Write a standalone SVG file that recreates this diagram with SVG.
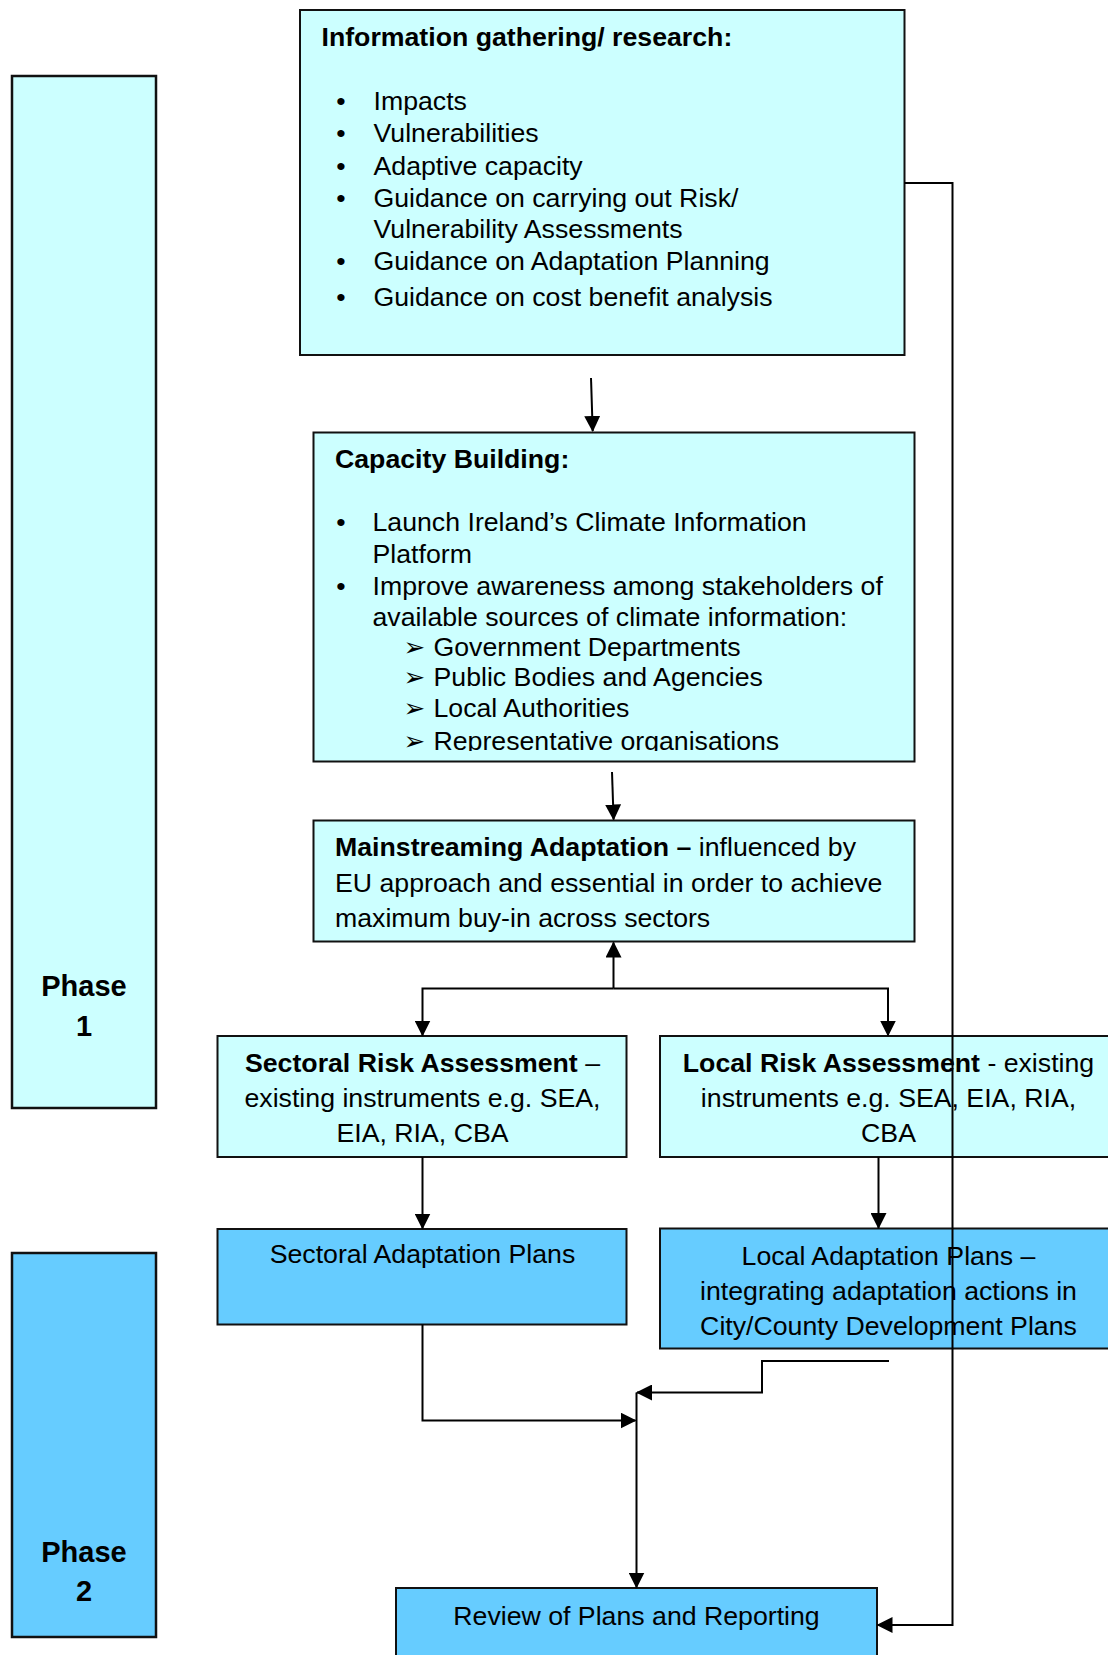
<svg xmlns="http://www.w3.org/2000/svg" width="1108" height="1655" viewBox="0 0 1108 1655">
<defs>
<style>
.t{font-family:'Liberation Sans',Arial,sans-serif;font-size:26.7px;fill:#000}
.b{font-weight:bold}
.n{font-weight:normal}
.c{text-anchor:middle}
.ph{font-family:'Liberation Sans',Arial,sans-serif;font-size:29px;font-weight:bold;text-anchor:middle;fill:#000}
.sym{font-family:'DejaVu Sans',sans-serif;font-size:26px;fill:#000}
.lc{fill:#CCFFFF;stroke:#111;stroke-width:2}
.bl{fill:#66CCFF;stroke:#111;stroke-width:2}
.phb{stroke-width:2.5}
.cn{fill:none;stroke:#000;stroke-width:2}
</style>
<marker id="ah" markerWidth="16" markerHeight="16" refX="15" refY="8" orient="auto" markerUnits="userSpaceOnUse" viewBox="0 0 16 16">
<path d="M0,0 L16,8 L0,16 z" fill="#000"/>
</marker>
<clipPath id="capclip"><rect x="314" y="433" width="600" height="318"/></clipPath>
</defs>

<g id="phase1">
<rect class="lc phb" x="12" y="76" width="144" height="1032"/>
<text class="ph" x="84" y="996">Phase</text>
<text class="ph" x="84" y="1036">1</text>
</g>

<g id="phase2">
<rect class="bl phb" x="12" y="1253" width="144" height="384"/>
<text class="ph" x="84" y="1562">Phase</text>
<text class="ph" x="84" y="1601">2</text>
</g>

<g id="info">
<rect class="lc" x="300" y="10" width="604.5" height="345"/>
<text class="t b" x="321.5" y="46">Information gathering/ research:</text>
<text class="t c" x="341" y="110">•</text>
<text class="t" x="373.5" y="110">Impacts</text>
<text class="t c" x="341" y="142">•</text>
<text class="t" x="373.5" y="142">Vulnerabilities</text>
<text class="t c" x="341" y="174.5">•</text>
<text class="t" x="373.5" y="174.5">Adaptive capacity</text>
<text class="t c" x="341" y="206.5">•</text>
<text class="t" x="373.5" y="206.5">Guidance on carrying out Risk/</text>
<text class="t" x="373.5" y="238">Vulnerability Assessments</text>
<text class="t c" x="341" y="270">•</text>
<text class="t" x="373.5" y="270">Guidance on Adaptation Planning</text>
<text class="t c" x="341" y="306">•</text>
<text class="t" x="373.5" y="306">Guidance on cost benefit analysis</text>
</g>

<g id="capacity">
<rect class="lc" x="313.5" y="432.5" width="601" height="329"/>
<g clip-path="url(#capclip)">
<text class="t b" x="335" y="467.5">Capacity Building:</text>
<text class="t c" x="341" y="530.5">•</text>
<text class="t" x="372.5" y="530.5">Launch Ireland’s Climate Information</text>
<text class="t" x="372.5" y="562.5">Platform</text>
<text class="t c" x="341" y="594.5">•</text>
<text class="t" x="372.5" y="594.5">Improve awareness among stakeholders of</text>
<text class="t" x="372.5" y="625.5">available sources of climate information:</text>
<text class="sym" x="403.5" y="655.5">➢</text>
<text class="t" x="433.5" y="656">Government Departments</text>
<text class="sym" x="403.5" y="686">➢</text>
<text class="t" x="433.5" y="686">Public Bodies and Agencies</text>
<text class="sym" x="403.5" y="716.5">➢</text>
<text class="t" x="433.5" y="717">Local Authorities</text>
<text class="sym" x="403.5" y="749.5">➢</text>
<text class="t" x="433.5" y="750">Representative organisations</text>
</g>
</g>

<g id="mainstream">
<rect class="lc" x="313.5" y="820.5" width="601" height="121"/>
<text class="t" x="335" y="855.5"><tspan class="b">Mainstreaming Adaptation –</tspan> influenced by</text>
<text class="t" x="335" y="891.5">EU approach and essential in order to achieve</text>
<text class="t" x="335" y="927">maximum buy-in across sectors</text>
</g>

<g id="sectoral-risk">
<rect class="lc" x="217.5" y="1036" width="409" height="121"/>
<text class="t c" x="422.5" y="1071.5"><tspan class="b">Sectoral Risk Assessment</tspan> –</text>
<text class="t c" x="422.5" y="1107">existing instruments e.g. SEA,</text>
<text class="t c" x="422.5" y="1142">EIA, RIA, CBA</text>
</g>

<g id="local-risk">
<rect class="lc" x="660" y="1036" width="460" height="121"/>
<text class="t c" x="888.5" y="1071.5"><tspan class="b">Local Risk Assessment</tspan> - existing</text>
<text class="t c" x="888.5" y="1107">instruments e.g. SEA, EIA, RIA,</text>
<text class="t c" x="888.5" y="1142">CBA</text>
</g>

<g id="sectoral-plans">
<rect class="bl" x="217.5" y="1229" width="409" height="95.5"/>
<text class="t c" x="422.5" y="1263">Sectoral Adaptation Plans</text>
</g>

<g id="local-plans">
<rect class="bl" x="660" y="1228.5" width="460" height="120"/>
<text class="t c" x="888.5" y="1265">Local Adaptation Plans –</text>
<text class="t c" x="888.5" y="1299.5">integrating adaptation actions in</text>
<text class="t c" x="888.5" y="1334.5">City/County Development Plans</text>
</g>

<g id="review">
<rect class="bl" x="396" y="1588" width="481" height="90"/>
<text class="t c" x="636.5" y="1625">Review of Plans and Reporting</text>
</g>

<g id="connectors">
<path class="cn" d="M591,378 L592.7,431" marker-end="url(#ah)"/>
<path class="cn" d="M612,772 L613.6,819.5" marker-end="url(#ah)"/>
<path class="cn" d="M613.5,988.5 V942.5" marker-end="url(#ah)"/>
<path class="cn" d="M613.5,988.5 H422.5 V1035.5" marker-end="url(#ah)"/>
<path class="cn" d="M613.5,988.5 H888 V1035.5" marker-end="url(#ah)"/>
<path class="cn" d="M422.5,1157 V1228.5" marker-end="url(#ah)"/>
<path class="cn" d="M878.5,1157 V1228" marker-end="url(#ah)"/>
<path class="cn" d="M422.5,1324.5 V1420.5 H635.5" marker-end="url(#ah)"/>
<path class="cn" d="M889,1361 H762 V1392.5 H637" marker-end="url(#ah)"/>
<path class="cn" d="M636.5,1392.5 V1587.5" marker-end="url(#ah)"/>
<path class="cn" d="M904.5,183 H952.5 V1625 H877.5" marker-end="url(#ah)"/>
</g>
</svg>
